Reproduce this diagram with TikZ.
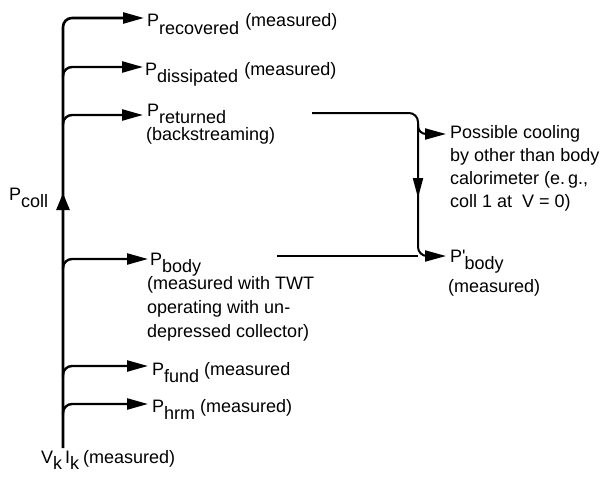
\documentclass[tikz,border=0pt]{standalone}
\usepackage{fontspec}
\setmainfont{Liberation Sans}
\usetikzlibrary{arrows.meta}
\newcommand{\sbx}[1]{\raisebox{-7pt}{#1}}
\begin{document}
\begin{tikzpicture}[x=1pt,y=-1pt,
  txt/.style={anchor=base west,inner sep=0pt,font=\fontsize{18}{23}\selectfont},
  main/.style={line width=2.6pt},
  tip/.style={-{Triangle[length=21pt,width=11pt]}},
  br/.style={line width=2.4pt,tip,rounded corners=9pt},
  rline/.style={line width=2pt}]
\useasboundingbox (0,0) rectangle (607,479);
% ---------- texts ----------
\node[txt] (rec) at (147,27) {P\sbx{recovered}\hspace{6pt}(measured)};
\node[txt] (dis) at (145,75) {P\sbx{dissipated}\hspace{6pt}(measured)};
\node[txt] (ret) at (147,116) {P\sbx{returned}};
\node[txt] (ret2) at (146,140) {(backstreaming)};
\node[txt] (bod) at (150,265) {P\sbx{body}};
\node[txt] (bod2) at (147,289) {(measured with TWT};
\node[txt] (bod3) at (147,313) {operating with un-};
\node[txt] (bod4) at (147,337) {depressed collector)};
\node[txt] (fun) at (152,375) {P\sbx{fund}\hspace{5pt}(measured};
\node[txt] (hrm) at (152,412) {P\sbx{hrm}\hspace{5pt}(measured)};
\node[txt] (col) at (9,200) {P\sbx{coll}};
\node[txt] (vk) at (41,463) {V\raisebox{-6pt}{k}\,I\raisebox{-6pt}{k}\hspace{4pt}(measured)};
\node[txt] (c1) at (450,138) {Possible cooling};
\node[txt] (c2) at (450,161) {by other than body};
\node[txt] (c3) at (450,184) {calorimeter (e.\,g.,};
\node[txt] (c4) at (450,207) {coll 1 at \ V = 0)};
\node[txt] (pb) at (450,262) {P\textquotesingle\kern-1pt\sbx{body}};
\node[txt] (pb2) at (448,292) {(measured)};
% ---------- coordinates ----------
\coordinate (bot) at (63,448);
\coordinate (trec) at (144,18);
\coordinate (jdis) at (63,77);  \coordinate (tdis) at (143,67);
\coordinate (jret) at (63,125); \coordinate (tret) at (143,115);
\coordinate (jbod) at (63,269); \coordinate (tbod) at (148,259);
\coordinate (jfun) at (63,377); \coordinate (tfun) at (148,366);
\coordinate (jhrm) at (63,415); \coordinate (thrm) at (148,404);
\coordinate (rs) at (312,113);
\coordinate (rc) at (418,113);
\coordinate (rb) at (418,256);
\coordinate (bs) at (277,256);
\coordinate (tpb) at (446,256);
\coordinate (jc) at (418,124);
\coordinate (tc) at (446,134);
\coordinate (ua) at (63,216);
\coordinate (ub) at (63,193);
\coordinate (da) at (418,170);
\coordinate (db) at (418,198);
% ---------- connectors ----------
\draw[main,tip,rounded corners=9pt] (bot) |- (trec);
\draw[br] (jdis) |- (tdis);
\draw[br] (jret) |- (tret);
\draw[br] (jbod) |- (tbod);
\draw[br] (jfun) |- (tfun);
\draw[br] (jhrm) |- (thrm);
\draw[line width=2.6pt,-{Triangle[length=17pt,width=13pt]}] (ua) -- (ub);
\draw[rline,tip,rounded corners=9pt] (rs) -- (rc) -- (rb) -- (tpb);
\draw[rline] (bs) -- (rb);
\draw[rline,tip,rounded corners=8pt] (jc) |- (tc);
\draw[rline,-{Triangle[length=20pt,width=10pt]}] (da) -- (db);
\end{tikzpicture}
\end{document}
